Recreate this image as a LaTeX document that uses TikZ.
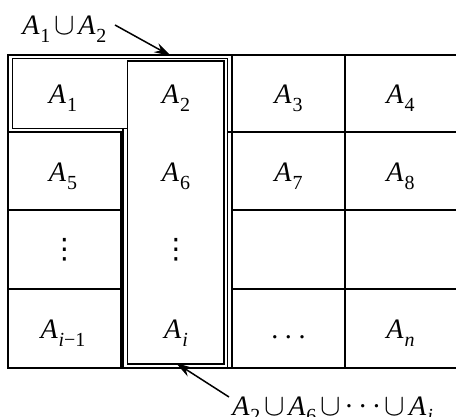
\documentclass[tikz,border=0pt]{standalone}
\usepackage{fontspec}
\setmainfont{Liberation Serif}
\newfontfamily\symf{DejaVu Sans}
\usetikzlibrary{arrows.meta}
\newcommand{\sA}[1]{\textit{A}\kern0.6pt\raisebox{-5.2pt}{\fontsize{13.5}{14}\selectfont #1}}
\newcommand{\un}{\hspace{2.5pt}{\fontsize{20.74}{22}\selectfont$\cup$}\hspace{2.5pt}}
\begin{document}
\begin{tikzpicture}[x=1pt,y=-1pt,
  gridline/.style={line width=1.3pt, line cap=rect},
  boxline/.style={line width=1.3pt},
  cell/.style={inner sep=0pt, anchor=base, scale=1.48, font=\fontsize{19}{22}\selectfont},
  lbl/.style={inner sep=0pt, anchor=base west, scale=1.48, font=\fontsize{19}{22}\selectfont},
  pointer/.style={line width=1.5pt, -{Stealth[length=17pt,width=10pt]}}]
\useasboundingbox (0,0) rectangle (456,417);
% grid
\draw[gridline] (8,55) -- (456,55);
\draw[gridline] (8,132) -- (123,132);
\draw[gridline] (227.5,132) -- (456,132);
\draw[gridline] (8,210) -- (121,210);
\draw[gridline] (232,210) -- (456,210);
\draw[gridline] (8,289) -- (121,289);
\draw[gridline] (232,289) -- (456,289);
\draw[gridline] (8,368) -- (456,368);
\draw[gridline] (8,55) -- (8,368);
\draw[gridline] (121,132) -- (121,368);
\draw[gridline] (232,55) -- (232,368);
\draw[gridline] (345,55) -- (345,368);
% A1 u A2 inner line
\draw[boxline] (127.7,128.5) -- (12.5,128.5) -- (12.5,58.5) -- (227.5,58.5) -- (227.5,128.5);
% column box: inner and outer
\draw[boxline] (127.7,61) rectangle (224,364);
\draw[boxline] (123,128.5) -- (123,368);
\draw[boxline] (227.5,128.5) -- (227.5,368);
% cells
\node[cell] (c11) at (63,103.5) {\sA{1}};
\node[cell] (c12) at (176,103.5) {\sA{2}};
\node[cell] (c13) at (288.5,103.5) {\sA{3}};
\node[cell] (c14) at (400.5,103.5) {\sA{4}};
\node[cell] (c21) at (63,181.5) {\sA{5}};
\node[cell] (c22) at (176,181.5) {\sA{6}};
\node[cell] (c23) at (288.5,181.5) {\sA{7}};
\node[cell] (c24) at (400.5,181.5) {\sA{8}};
\node[cell] (c31) at (64.5,259) {{\symf ⋮}};
\node[cell] (c32) at (176,259) {{\symf ⋮}};
\node[cell] (c41) at (63,338.5) {\sA{\textit{i}−1}};
\node[cell] (c42) at (176,338.5) {\sA{\textit{i}}};
\node[cell] (c43) at (288.5,338.5) {.\hspace{4.5pt}.\hspace{4.5pt}.};
\node[cell] (c44) at (400.5,338.5) {\sA{\textit{n}}};
% labels and pointers
\node[lbl] (top) at (22,35) {\sA{1}\un\sA{2}};
\node[lbl] (bot) at (232,415) {\sA{2}\un\sA{6}\un·\hspace{3pt}·\hspace{3pt}·\un\sA{\textit{i}}};
\coordinate (toptip) at (171,56);
\coordinate (bottip) at (176,363);
\coordinate (topstart) at (115,25);
\coordinate (botstart) at (229,397);
\draw[pointer] (topstart) -- (toptip);
\draw[pointer] (botstart) -- (bottip);
\end{tikzpicture}
\end{document}
